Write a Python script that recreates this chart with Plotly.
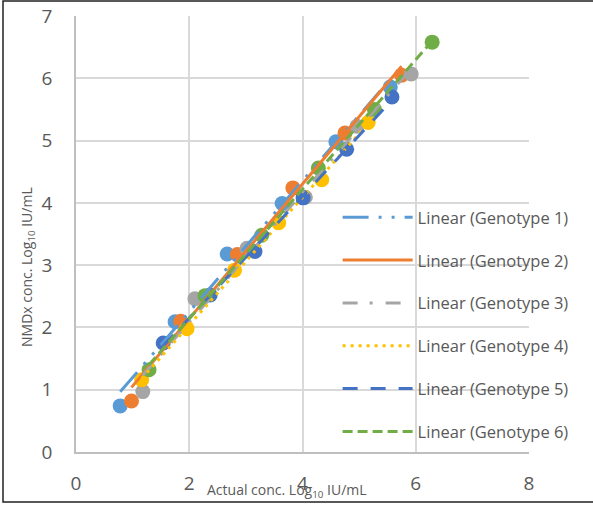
import numpy as np
import plotly.graph_objects as go

names = ["Genotype 1", "Genotype 2", "Genotype 3", "Genotype 4", "Genotype 5", "Genotype 6"]
colors = ["#5B9BD5", "#ED7D31", "#A5A5A5", "#FFC000", "#4472C4", "#70AD47"]

g1_x = [0.78, 1.75, 2.67, 3.64, 4.59, 5.55]
g1_y = [0.74, 2.09, 3.18, 3.99, 4.98, 5.86]
g2_x = [0.98, 1.85, 2.85, 3.83, 4.75, 5.75]
g2_y = [0.82, 2.10, 3.17, 4.24, 5.12, 6.05]
g3_x = [1.18, 2.10, 3.02, 4.05, 4.96, 5.92]
g3_y = [0.97, 2.46, 3.27, 4.09, 5.23, 6.07]
g4_x = [1.16, 1.96, 2.80, 3.58, 4.34, 5.16]
g4_y = [1.16, 1.98, 2.92, 3.68, 4.37, 5.29]
g5_x = [1.54, 2.37, 3.16, 4.01, 4.78, 5.58]
g5_y = [1.75, 2.52, 3.22, 4.08, 4.86, 5.70]
g6_x = [1.29, 2.28, 3.28, 4.28, 5.27, 6.29]
g6_y = [1.32, 2.51, 3.48, 4.56, 5.50, 6.58]

xs = [g1_x, g2_x, g3_x, g4_x, g5_x, g6_x]
ys = [g1_y, g2_y, g3_y, g4_y, g5_y, g6_y]
dashes = ["26px,10px,3px,10px,3px,10px", "solid", "15px,12px,3px,13px",
          "3px,5px", "15px,13px", "10px,5px"]

x_ticks = [0, 2, 4, 6, 8]
y_ticks = [0, 1, 2, 3, 4, 5, 6, 7]

fig = go.Figure()
for i in range(6):
    fig.add_trace(go.Scatter(x=xs[i], y=ys[i], mode="markers",
                             marker=dict(size=15, color=colors[i], line=dict(width=0)),
                             showlegend=False, name=names[i]))
for i in range(6):
    xa = np.array(xs[i]); ya = np.array(ys[i])
    m, b = np.polyfit(xa, ya, 1)
    tx = np.array([xa.min(), xa.max()])
    fig.add_trace(go.Scatter(x=tx, y=m * tx + b, mode="lines",
                             line=dict(color=colors[i], width=3, dash=dashes[i]),
                             name="Linear (" + names[i] + ")", legendgroup="g%d" % i,
                             showlegend=True))

font = "Open Sans"
grey = "#595959"
fig.update_layout(
    width=593, height=505,
    margin=dict(l=76, r=64, t=16, b=53),
    paper_bgcolor="white", plot_bgcolor="white",
    font=dict(family=font, color=grey),
    legend=dict(x=0.5775, y=0.578, xanchor="left", yanchor="top",
                bgcolor="rgba(0,0,0,0)", font=dict(size=16.5, color=grey),
                tracegroupgap=18.4, itemwidth=70),
    xaxis=dict(range=[0, 8], tickvals=x_ticks, showgrid=True, gridcolor="#D9D9D9",
               gridwidth=1.5, zeroline=False, showline=True, linecolor="#BFBFBF",
               linewidth=1.5, mirror=False, tickfont=dict(size=19, color=grey),
               ticks="", ticklabelstandoff=13, automargin=False),
    yaxis=dict(range=[0, 7], tickvals=y_ticks, showgrid=True, gridcolor="#D9D9D9",
               gridwidth=1.5, zeroline=False, showline=True, linecolor="#BFBFBF",
               linewidth=1.5, tickfont=dict(size=19, color=grey),
               ticks="", ticklabelstandoff=18, automargin=False),
)
fig.add_annotation(text="Actual conc. Log<sub>10</sub> IU/mL", xref="paper", yref="paper",
                   x=(287 - 76) / 453, y=(452 - 490) / 436, showarrow=False,
                   font=dict(size=14, color=grey), xanchor="center", yanchor="middle")
fig.add_annotation(text="NMDx conc. Log<sub>10</sub> IU/mL", xref="paper", yref="paper",
                   x=(27 - 76) / 453, y=(452 - 267) / 436, showarrow=False, textangle=-90,
                   font=dict(size=14, color=grey), xanchor="center", yanchor="middle")
fig.add_shape(type="rect", xref="paper", yref="paper",
              x0=(3 - 76) / 453, x1=(600 - 76) / 453,
              y0=(452 - 502) / 436, y1=(452 - 1) / 436,
              line=dict(color="#222222", width=1.5), fillcolor="rgba(0,0,0,0)", layer="below")
fig.write_html("out.html")
